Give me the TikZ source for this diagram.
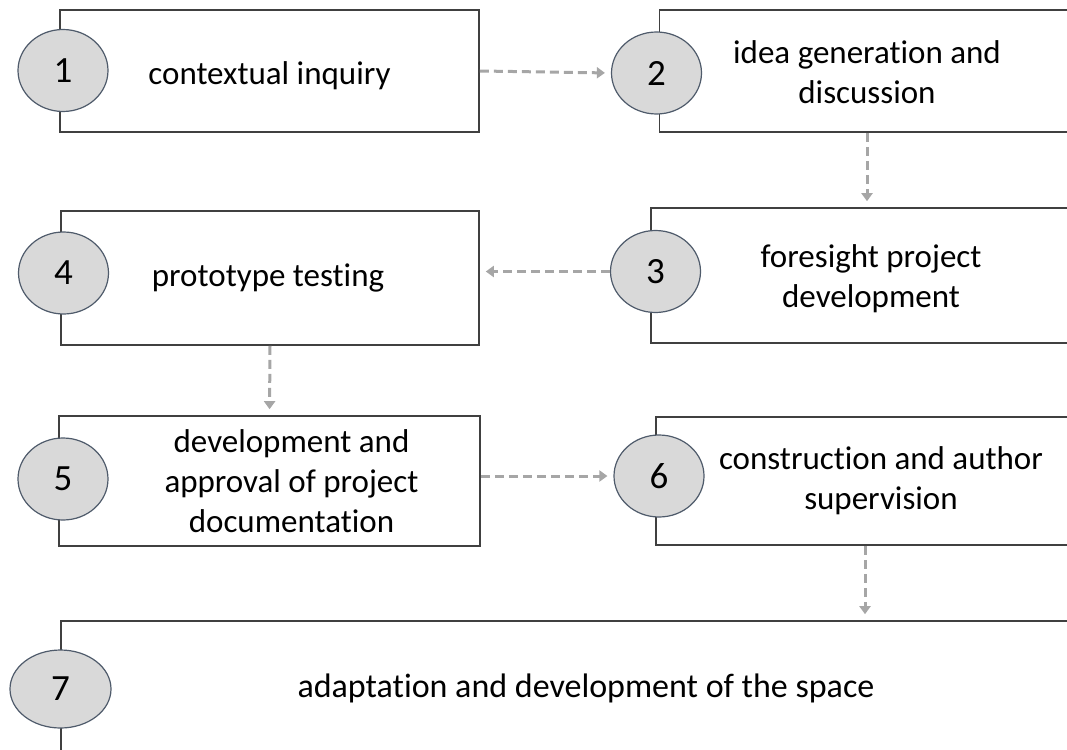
\documentclass[tikz,border=0pt]{standalone}
\usepackage{fontspec}
\setmainfont{Carlito}[Ligatures=NoCommon]
\usetikzlibrary{shapes.geometric,arrows.meta}
\definecolor{boxline}{HTML}{404040}
\definecolor{numfill}{HTML}{D9D9D9}
\definecolor{numline}{HTML}{4F5B6B}
\definecolor{flowgray}{HTML}{A6A6A6}

\begin{document}
\begin{tikzpicture}[x=1pt, y=-1pt,
		stage/.style={rectangle, draw=boxline, line width=1.6pt, fill=white, inner sep=0pt},
		num/.style={ellipse, draw=numline, line width=1.2pt, fill=numfill, minimum width=90, minimum height=82, inner sep=0pt, font=\fontsize{37}{40}\selectfont},
		txt/.style={align=center, inner sep=0pt, font=\fontsize{33}{40}\selectfont},
		flow/.style={draw=flowgray, line width=3pt, dash pattern=on 9pt off 5pt, -{Triangle[width=11pt,length=8pt]}, shorten >=6pt}]
		\useasboundingbox (0,0) rectangle (1067,749);
		\clip (0,0) rectangle (1067,749);
		\node[stage, minimum width=419, minimum height=122] (b1) at (269.5,71){};
		\node[stage, minimum width=415, minimum height=122] (b2) at (867,71){};
		\node[stage, minimum width=432, minimum height=135] (b3) at (867,275.5){};
		\node[stage, minimum width=418, minimum height=134] (b4) at (270,278){};
		\node[stage, minimum width=421, minimum height=130] (b5) at (269.5,481){};
		\node[stage, minimum width=418, minimum height=128] (b6) at (865,481){};
		\node[stage, minimum width=1100, minimum height=200] (b7) at (611,721){};
		\node[txt] (t1) at ([yshift=-5pt]b1.center){contextual inquiry};
		\node[txt] (t2) at ([yshift=-1pt]b2.center){idea generation and\\discussion};
		\node[txt] (t3) at ([xshift=4pt, yshift=-3pt]b3.center){foresight project\\development};
		\node[txt] (t4) at ([xshift=-2pt]b4.center){prototype testing};
		\node[txt] (t5) at ([xshift=22pt]b5.center){development and\\approval of project\\documentation};
		\node[txt] (t6) at ([xshift=16pt]b6.center){construction and author\\supervision};
		\node[txt, font=\fontsize{34}{40}\selectfont] (t7) at (586,688){adaptation and development of the space};
		\node[num] (c1) at (63,70.5){1};
		\node[num] (c2) at (656.5,73){2};
		\node[num] (c3) at (655.5,271.5){3};
		\node[num] (c4) at (63.5,273){4};
		\node[num] (c5) at (63,479){5};
		\node[num] (c6) at (659,476){6};
		\node[num, minimum width=101, minimum height=78] (c7) at (60.5,689){7};
		\draw[flow] (b1.east) -- (c2.west);
		\draw[flow] (b2.south) -- (b2.south |- b3.north);
		\draw[flow] (c3.west) -- (c3.west -| b4.east);
		\draw[flow] (b4.south) -- (b5.north);
		\draw[flow] (b5.east |- c6.west) -- (c6.west);
		\draw[flow] (b6.south) -- (b6.south |- b7.north);
\end{tikzpicture}
\end{document}
